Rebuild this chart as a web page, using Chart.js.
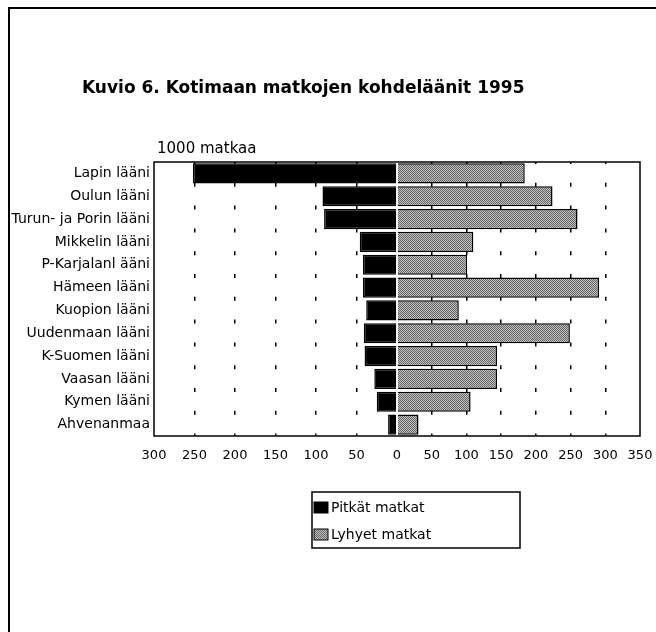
<!DOCTYPE html>
<html>
<head>
<meta charset="utf-8">
<script src="https://cdn.jsdelivr.net/npm/chart.js@4"></script>
<style>
  html, body { margin: 0; padding: 0; background: #fff; }
  #myChart { display: block; }
</style>
</head>
<body>
<canvas id="myChart" width="656" height="632"></canvas>
<script>
const chartTitle = 'Kuvio 6. Kotimaan matkojen kohdeläänit 1995';
const unitLabel = '1000 matkaa';
const regions = ['Lapin lääni', 'Oulun lääni', 'Turun- ja Porin lääni', 'Mikkelin lääni',
  'P-Karjalanl ääni', 'Hämeen lääni', 'Kuopion lääni', 'Uudenmaan lääni',
  'K-Suomen lääni', 'Vaasan lääni', 'Kymen lääni', 'Ahvenanmaa'];
const longTrips = [252, 92, 90, 46, 42, 42, 38, 41, 40, 28, 25, 11];
const shortTrips = [184, 224, 260, 110, 101, 291, 89, 249, 144, 144, 106, 31];
const seriesNames = ['Pitkät matkat', 'Lyhyet matkat'];
const leftMax = 300;
const rightMax = 350;
const tickStep = 50;

const FONT = 'DejaVu Sans';

// grey dithered fill like the printed original
function makeHatch() {
    var c = document.createElement('canvas');
    c.width = 4; c.height = 4;
    var g = c.getContext('2d');
    g.fillStyle = '#c4c4c4';
    g.fillRect(0, 0, 4, 4);
    g.fillStyle = '#626262';
    for (var i = 0; i < 4; i++) {
        g.fillRect(i, i, 1, 1);
        g.fillRect((i + 2) % 4, i, 1, 1);
    }
    return g.createPattern(c, 'repeat');
}

const hatch = makeHatch();

// frame, title, unit label and legend box
const decorations = {
    id: 'decorations',
    afterDatasetsDraw(chart) {
        const ctx = chart.ctx;
        const a = chart.chartArea;
        ctx.save();
        ctx.strokeStyle = '#000';
        ctx.lineWidth = 1.5;
        ctx.strokeRect(a.left, a.top, a.right - a.left, a.bottom - a.top);
        ctx.restore();
    },
    afterDraw(chart) {
        const ctx = chart.ctx;
        ctx.save();
        // page frame
        ctx.strokeStyle = '#000';
        ctx.lineWidth = 2;
        ctx.beginPath();
        ctx.moveTo(9, 632);
        ctx.lineTo(9, 8);
        ctx.lineTo(656, 8);
        ctx.stroke();

        ctx.fillStyle = '#000';
        ctx.textAlign = 'left';
        ctx.textBaseline = 'alphabetic';
        ctx.font = 'bold 17px "' + FONT + '"';
        ctx.fillText(chartTitle, 82, 93);

        ctx.textBaseline = 'middle';
        ctx.font = '15px "' + FONT + '"';
        ctx.fillText(unitLabel, 157, 149);

        // legend
        ctx.lineWidth = 1.5;
        ctx.strokeRect(312, 492, 208, 56);
        ctx.font = '14px "' + FONT + '"';
        chart.data.datasets.forEach(function (ds, i) {
            const y = 507 + i * 27;
            ctx.fillStyle = ds.backgroundColor;
            ctx.fillRect(314, y - 5, 14, 11);
            ctx.lineWidth = 1;
            ctx.strokeRect(314, y - 5, 14, 11);
            ctx.fillStyle = '#000';
            ctx.fillText(ds.label, 331, y + 1);
        });
        ctx.restore();
    }
};

function gridColor(max) {
    return function (c) {
        const v = c.tick ? c.tick.value : null;
        return (v === 0 || v === max) ? 'rgba(0,0,0,0)' : '#000';
    };
}

// keep the x axes from pushing the plot edges in
function fixAxis(s) {
    s.height = 36;
    s.paddingLeft = 0;
    s.paddingRight = 0;
}

const config = {
    type: 'bar',
    data: {
        labels: regions,
        datasets: [
            {
                label: seriesNames[0],
                data: longTrips,
                xAxisID: 'xLeft',
                backgroundColor: '#000',
                borderColor: '#000',
                borderWidth: 1.5
            },
            {
                label: seriesNames[1],
                data: shortTrips,
                xAxisID: 'xRight',
                backgroundColor: hatch,
                borderColor: '#000',
                borderWidth: 1.5
            }
        ]
    },
    options: {
        indexAxis: 'y',
        responsive: false,
        animation: false,
        datasets: {
            bar: { grouped: false, barPercentage: 0.88, categoryPercentage: 1 }
        },
        layout: { padding: { left: 0, top: 162, right: 16, bottom: 160 } },
        plugins: {
            legend: { display: false },
            tooltip: { enabled: false }
        },
        scales: {
            y: {
                grid: { display: false, drawTicks: false },
                border: { display: false },
                ticks: { color: '#000', padding: 4, font: { family: FONT, size: 14 } },
                afterFit: function (s) { s.width = 154; }
            },
            xLeft: {
                type: 'linear',
                position: 'bottom',
                stack: 'x',
                stackWeight: 1,
                reverse: true,
                min: 0,
                max: leftMax,
                ticks: {
                    stepSize: tickStep,
                    autoSkip: false,
                    color: '#000',
                    padding: 12,
                    maxRotation: 0,
                    font: { family: FONT, size: 13 },
                    callback: function (v) { return v === 0 ? '' : v; }
                },
                grid: { color: gridColor(leftMax), lineWidth: 1.5, drawTicks: false },
                border: { display: false, dash: [4, 18.8], dashOffset: 2 },
                afterFit: fixAxis
            },
            xRight: {
                type: 'linear',
                position: 'bottom',
                stack: 'x',
                stackWeight: 1,
                min: 0,
                max: rightMax,
                ticks: {
                    stepSize: tickStep,
                    autoSkip: false,
                    color: '#000',
                    padding: 12,
                    maxRotation: 0,
                    font: { family: FONT, size: 13 }
                },
                grid: { color: gridColor(rightMax), lineWidth: 1.5, drawTicks: false },
                border: { display: false, dash: [4, 18.8], dashOffset: 2 },
                afterFit: fixAxis
            }
        }
    },
    plugins: [decorations]
};

var myChart;

window.addEventListener('load', function () {
    var ctx = document.getElementById('myChart').getContext('2d');
    myChart = new Chart(ctx, config);
});
</script>
</body>
</html>
